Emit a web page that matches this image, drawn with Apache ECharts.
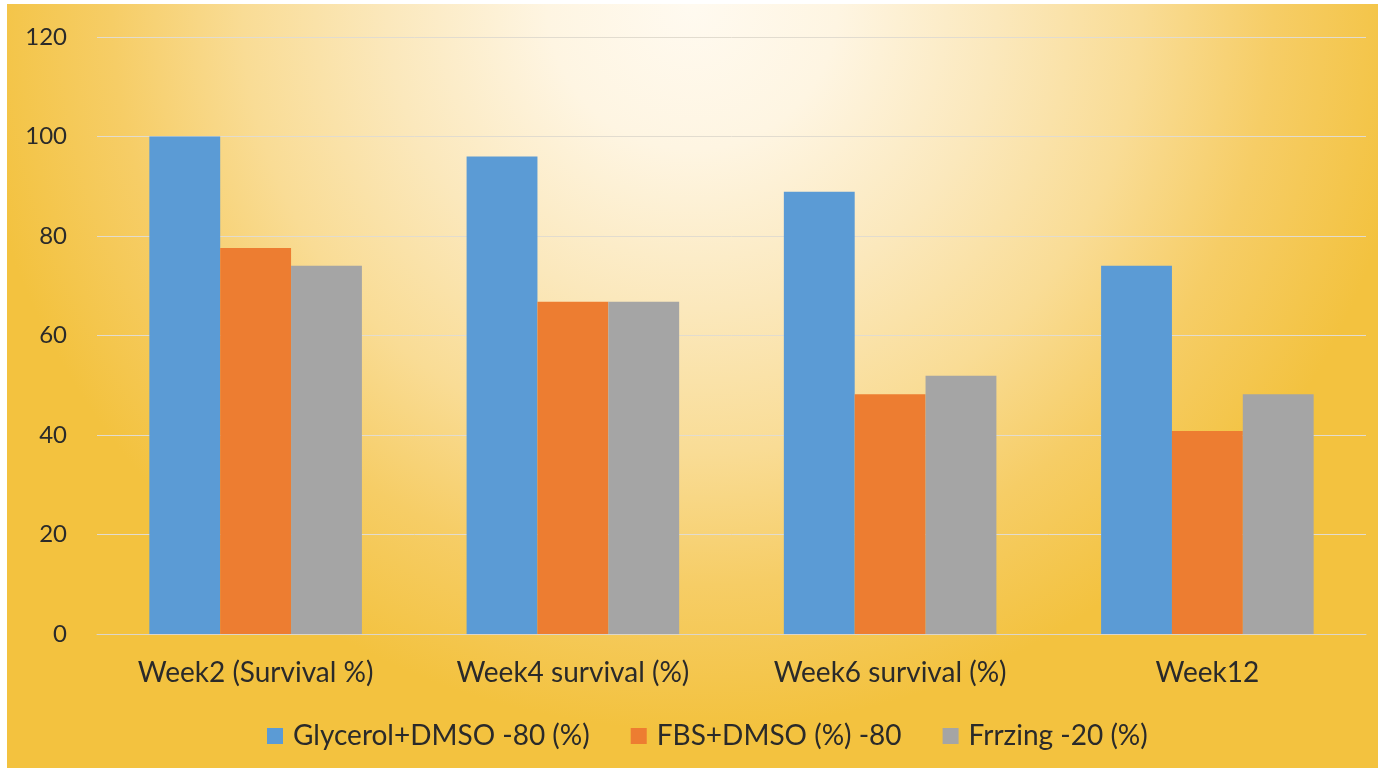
<!DOCTYPE html>
<html>
<head>
<meta charset="utf-8">
<script src="https://cdn.jsdelivr.net/npm/echarts@6/dist/echarts.min.js"></script>
<style>html,body{margin:0;padding:0;background:#fff;}#c{width:1378px;height:772px;}</style>
</head>
<body>
<div id="c"></div>
<script>
const categories = ['Week2 (Survival %)', 'Week4 survival (%)', 'Week6 survival (%)', 'Week12'];
const seriesNames = ['Glycerol+DMSO -80 (%)', 'FBS+DMSO (%) -80', 'Frrzing -20 (%)'];
const glycerolDmso = [100, 96, 88.9, 74];
const fbsDmso = [77.6, 66.8, 48.2, 40.8];
const freezing = [74, 66.8, 51.9, 48.2];
const yTicks = [0, 20, 40, 60, 80, 100, 120];

const colors = ['#5B9BD5', '#ED7D31', '#A5A5A5'];
const values = [glycerolDmso, fbsDmso, freezing];
const font = 'Lato, "Open Sans", sans-serif';
const textColor = '#2a2a2a';

const chart = echarts.init(document.getElementById('c'));
chart.setOption({
  backgroundColor: '#ffffff',
  animation: false,
  graphic: [{
    type: 'rect',
    z: -10,
    silent: true,
    shape: {x: 7, y: 4, width: 1371, height: 764},
    style: {
      fill: {
        type: 'radial', x: 0.5, y: 0, r: 0.95,
        colorStops: [
          {offset: 0, color: '#FFFAF0'},
          {offset: 0.2, color: '#FEF5E2'},
          {offset: 0.42, color: '#FBE8BC'},
          {offset: 0.62, color: '#F9DC95'},
          {offset: 0.8, color: '#F6CD66'},
          {offset: 1, color: '#F3C23F'}
        ]
      }
    }
  }],
  grid: {left: 97, right: 12, top: 37, bottom: 138, containLabel: false},
  legend: {
    data: seriesNames,
    bottom: 17,
    left: 262,
    itemWidth: 16,
    itemHeight: 16,
    itemGap: 41,
    icon: 'rect',
    textStyle: {fontFamily: font, fontSize: 28, color: textColor, padding: [0, 0, 0, 5]}
  },
  xAxis: {
    type: 'category',
    data: categories,
    axisLine: {show: true, lineStyle: {color: '#DCD6CA', width: 1}},
    axisTick: {show: false},
    axisLabel: {fontFamily: font, fontSize: 28, color: textColor, margin: 25}
  },
  yAxis: {
    type: 'value',
    min: 0,
    max: 120,
    interval: 20,
    axisLine: {show: false},
    axisTick: {show: false},
    splitLine: {lineStyle: {color: '#E2DCCF', width: 1}},
    axisLabel: {fontFamily: font, fontSize: 24, color: textColor, margin: 30,
      formatter: v => yTicks.includes(v) ? String(v) : ''}
  },
  series: seriesNames.map((n, i) => ({
    name: n,
    type: 'bar',
    data: values[i],
    barGap: '0%',
    barCategoryGap: '33%',
    itemStyle: {color: colors[i]}
  }))
});
</script>
</body>
</html>
